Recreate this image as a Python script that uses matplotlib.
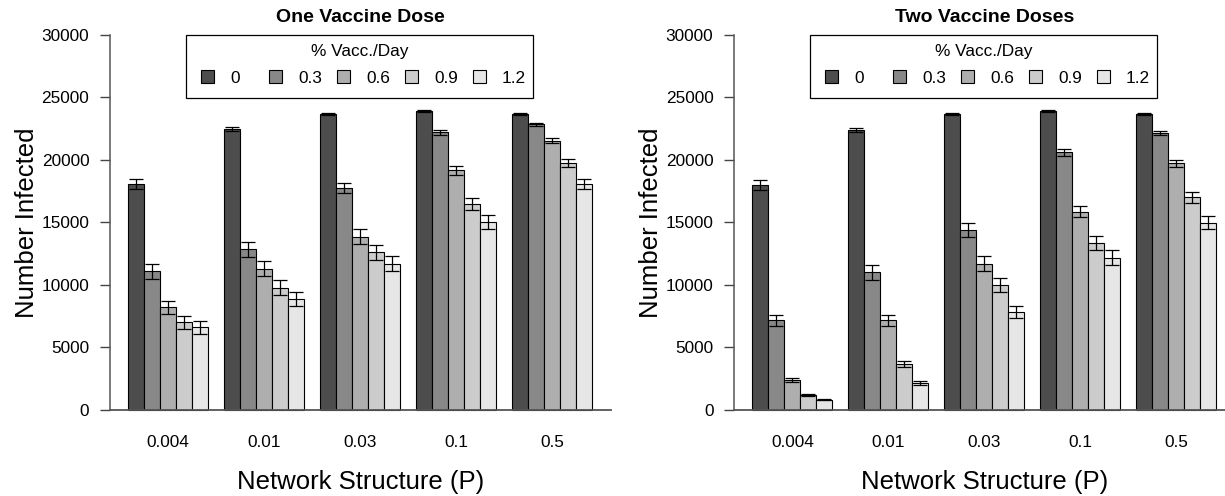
import numpy as np
import matplotlib
matplotlib.use("Agg")
import matplotlib.pyplot as plt
from matplotlib.patches import Rectangle

plt.rcParams['font.family'] = ['Liberation Sans', 'DejaVu Sans']

# network structure (P) and vaccination rates (% per day)
p_labels = ["0.004", "0.01", "0.03", "0.1", "0.5"]
rate_labels = ["0", "0.3", "0.6", "0.9", "1.2"]
rate_colors = ["#4D4D4D", "#888888", "#AEAEAE", "#CCCCCC", "#E6E6E6"]

# one vaccine dose: mean infected, one row per vaccination rate, one column per P
one_mean = [
    [18050, 22450, 23680, 23900, 23700],
    [11100, 12850, 17750, 22200, 22850],
    [8200, 11300, 13850, 19170, 21520],
    [7000, 9790, 12600, 16450, 19750],
    [6600, 8880, 11700, 15010, 18050],
]
one_err = [
    [400, 150, 80, 70, 80],
    [600, 610, 410, 200, 120],
    [520, 590, 600, 360, 200],
    [500, 570, 610, 480, 290],
    [490, 530, 610, 550, 400],
]

# two vaccine doses
two_mean = [
    [18000, 22400, 23680, 23900, 23700],
    [7170, 11010, 14430, 20600, 22130],
    [2370, 7170, 11710, 15870, 19730],
    [1200, 3710, 10000, 13330, 17000],
    [830, 2160, 7840, 12190, 14990],
]
two_err = [
    [400, 150, 80, 70, 80],
    [430, 610, 560, 290, 160],
    [150, 430, 610, 470, 290],
    [60, 240, 530, 570, 440],
    [40, 170, 470, 600, 550],
]

yticks = [0, 5000, 10000, 15000, 20000, 25000, 30000]


def draw_panel(ax, means, errs, title):
    n_groups = len(p_labels)
    n_rates = len(rate_labels)
    group_x = np.arange(n_groups) * (n_rates + 1) + 1

    for j in range(n_rates):
        left = group_x + j
        ax.bar(left, means[j], width=1.0, align='edge', color=rate_colors[j],
               edgecolor='black', linewidth=0.8, zorder=2)
        ax.errorbar(left + 0.5, means[j], yerr=errs[j], fmt='none',
                    ecolor='black', elinewidth=0.9, capsize=4.7,
                    capthick=0.9, zorder=3)

    xmin, xmax = 1 - 1.16, group_x[-1] + n_rates + 1.16
    ax.set_xlim(xmin, xmax)
    ax.set_ylim(-1200, 31200)

    for s in ['top', 'right', 'bottom']:
        ax.spines[s].set_visible(False)
    ax.spines['left'].set_bounds(0, 30000)
    ax.spines['left'].set_color('#555555')
    ax.spines['left'].set_linewidth(1.1)
    ax.plot([xmin, xmax], [0, 0], color='#555555', lw=1.3, zorder=4,
            clip_on=False)

    ax.set_yticks(yticks)
    ax.set_yticklabels([str(t) for t in yticks])
    ax.tick_params(axis='y', length=7.2, width=1.0, color='#444444',
                   pad=7.5, labelsize=12.4)
    ax.set_xticks(group_x + n_rates / 2)
    ax.set_xticklabels(p_labels)
    ax.tick_params(axis='x', length=0, pad=7.2, labelsize=12.4)

    ax.text(0.5, 0.9958, title, transform=ax.transAxes, ha='center',
            va='baseline', fontsize=14, fontweight='bold')
    ax.text(0.5, -0.1568, "Network Structure (P)", transform=ax.transAxes,
            ha='center', va='baseline', fontsize=18.5)
    ax.text(-0.1511, 0.4988, "Number Infected", transform=ax.transAxes,
            ha='center', va='baseline', rotation=90, rotation_mode='anchor',
            fontsize=18.5)

    # legend box drawn in data units
    bx0, bx1 = 4.61, 26.28
    by0, by1 = 24936, 30000
    ax.add_patch(Rectangle((bx0, by0), bx1 - bx0, by1 - by0, fill=True,
                           facecolor='white', edgecolor='black',
                           linewidth=0.9, zorder=5))
    ax.text((bx0 + bx1) / 2, 28664, "% Vacc./Day", ha='center', va='center',
            fontsize=12.4, zorder=6)
    for j in range(n_rates):
        cx = 5.95 + 4.25 * j
        ax.add_patch(Rectangle((cx - 0.4, 26144), 0.8, 1016,
                               facecolor=rate_colors[j], edgecolor='black',
                               linewidth=0.8, zorder=6))
        ax.text(cx + 1.406, 26144, rate_labels[j], ha='left', va='baseline',
                fontsize=12.4, zorder=6)


fig = plt.figure(figsize=(12.25, 4.96), dpi=100)
ax1 = fig.add_axes([109.7 / 1225, 0.14315, 501.1 / 1225, 0.81653])
ax2 = fig.add_axes([733.8 / 1225, 0.14315, 501.1 / 1225, 0.81653])

draw_panel(ax1, one_mean, one_err, "One Vaccine Dose")
draw_panel(ax2, two_mean, two_err, "Two Vaccine Doses")

fig.savefig("out.png", dpi=100)
